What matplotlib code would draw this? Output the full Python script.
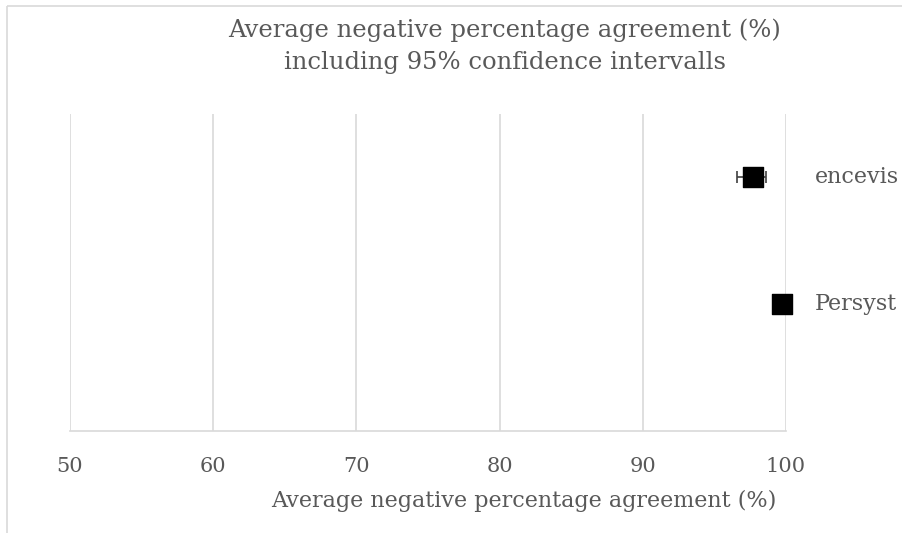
import matplotlib
matplotlib.use("Agg")
import matplotlib.pyplot as plt
from matplotlib.lines import Line2D
import matplotlib.transforms as mtransforms

# data
systems = ["Persyst", "encevis"]
ypos = [1, 2]
npa_mean = [99.7, 97.7]
ci_low = [99.7, 96.6]
ci_high = [99.7, 98.6]
xticks = [50, 60, 70, 80, 90, 100]

TEXT = "#595959"
GRID = "#d9d9d9"
FONT = "DejaVu Serif"

fig = plt.figure(figsize=(9.02, 5.33), dpi=100)
ax = fig.add_axes([70 / 902, 1 - 431 / 533, 716 / 902, 317 / 533])

# chart border: left and top edges are the only ones inside the picture
bx, by = 7 / 902, 1 - 6 / 533
fig.add_artist(Line2D([bx, bx], [0, by], transform=fig.transFigure,
                      color=GRID, linewidth=1.2, solid_capstyle="butt"))
fig.add_artist(Line2D([bx, 1.0], [by, by], transform=fig.transFigure,
                      color=GRID, linewidth=1.2, solid_capstyle="butt"))

xerr = [[m - lo for m, lo in zip(npa_mean, ci_low)],
        [hi - m for m, hi in zip(npa_mean, ci_high)]]
ax.errorbar(npa_mean, ypos, xerr=xerr, fmt="none", ecolor="#404040",
            elinewidth=1.2, capsize=4, capthick=1.2, zorder=3)
ax.scatter(npa_mean, ypos, marker="s", s=210, color="black", zorder=4,
           clip_on=False)

lab_trans = mtransforms.blended_transform_factory(ax.transAxes, ax.transData)
for name, y in zip(systems, ypos):
    ax.text((815 - 70) / 716, y, name, transform=lab_trans,
            ha="left", va="center", fontsize=16, color=TEXT, family=FONT,
            clip_on=False)

ax.set_xlim(50, 100)
ax.set_ylim(0, 2.5)
ax.set_xticks(xticks)
ax.set_yticks([])
ax.grid(axis="x", color=GRID, linewidth=1.2)
ax.set_axisbelow(True)
for s in ["top", "right", "left"]:
    ax.spines[s].set_visible(False)
ax.spines["bottom"].set_color(GRID)
ax.spines["bottom"].set_linewidth(1.2)
ax.tick_params(axis="x", length=0, pad=19, labelsize=15, labelcolor=TEXT)
for t in ax.get_xticklabels():
    t.set_family(FONT)

fig.text(505 / 902, 1 - 30 / 533, "Average negative percentage agreement (%)",
         ha="center", va="center", fontsize=17.5, color=TEXT, family=FONT)
fig.text(505 / 902, 1 - 62 / 533, "including 95% confidence intervalls",
         ha="center", va="center", fontsize=17.5, color=TEXT, family=FONT)
fig.text(524 / 902, 1 - 501 / 533, "Average negative percentage agreement (%)",
         ha="center", va="center", fontsize=16, color=TEXT, family=FONT)

fig.savefig("out.png", dpi=100)
